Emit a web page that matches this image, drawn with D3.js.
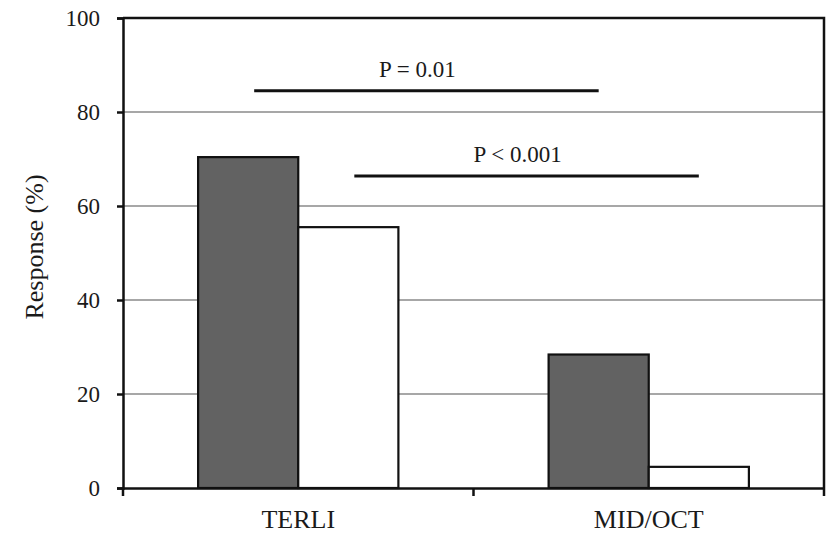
<!DOCTYPE html>
<html>
<head>
<meta charset="utf-8">
<script src="https://cdn.jsdelivr.net/npm/d3@7"></script>
<style>
  html, body { margin: 0; padding: 0; background: #fff; }
  svg { display: block; }
  text { font-family: "Liberation Serif", "Times New Roman", serif; fill: #1a1a1a; }
</style>
</head>
<body>
<svg id="chart" width="829" height="534"></svg>
<script>
// ---- data ----
const categories = ["TERLI", "MID/OCT"];
const seriesNames = ["group A", "group B"];
const seriesA = [70.4, 28.4];   // dark bars
const seriesB = [55.5, 4.5];    // white bars
const yTicks = [0, 20, 40, 60, 80, 100];
const annotLabels = ["P = 0.01", "P < 0.001"];
const annotValues = [84.5, 66.4];
const annotSeries = [0, 1];

// ---- layout ----
const svg = d3.select("#chart");
const mLeft = 123, mRight = 824, mTop = 18, mBottom = 488;

const y = d3.scaleLinear().domain([0, 100]).range([mBottom, mTop]);
const x = d3.scaleBand().domain(categories).range([mLeft, mRight]).paddingInner(0).paddingOuter(0);
const xs = d3.scaleBand().domain(seriesNames).range([0, x.bandwidth()]).paddingInner(0).paddingOuter(0.75);

const colors = ["#626262", "#ffffff"];
const seriesVals = [seriesA, seriesB];

// gridlines
svg.append("g").selectAll("line")
  .data(yTicks.filter(d => d > 0 && d < 100))
  .join("line")
  .attr("x1", mLeft).attr("x2", mRight)
  .attr("y1", d => y(d)).attr("y2", d => y(d))
  .attr("stroke", "#8a8a8a").attr("stroke-width", 1.5);

// bars
const bars = [];
categories.forEach((c, ci) => {
  seriesNames.forEach((s, si) => {
    bars.push({ c, s, si, v: seriesVals[si][ci] });
  });
});
svg.append("g").selectAll("rect")
  .data(bars)
  .join("rect")
  .attr("x", d => x(d.c) + xs(d.s))
  .attr("y", d => y(d.v))
  .attr("width", xs.bandwidth())
  .attr("height", d => y(0) - y(d.v))
  .attr("fill", d => colors[d.si])
  .attr("stroke", "#111").attr("stroke-width", 2.2);

// plot border (top & right)
svg.append("path")
  .attr("d", `M${mLeft},${mTop}H${mRight}V${mBottom}`)
  .attr("fill", "none").attr("stroke", "#111").attr("stroke-width", 2.5);

// y axis
const yAxis = svg.append("g")
  .attr("transform", `translate(${mLeft},0)`)
  .call(d3.axisLeft(y).tickValues(yTicks).tickSize(6).tickPadding(17).tickFormat(d3.format("d")));
yAxis.select(".domain").attr("stroke", "#111").attr("stroke-width", 2.5);
yAxis.selectAll(".tick line").attr("stroke", "#111").attr("stroke-width", 2.5);
yAxis.selectAll(".tick text").style("font-size", "23px").attr("fill", "#1a1a1a")
  .style("font-family", "'Liberation Serif', serif").attr("dy", "0.34em");

// x axis (labels)
const xAxis = svg.append("g")
  .attr("transform", `translate(0,${mBottom})`)
  .call(d3.axisBottom(x).tickSize(0).tickPadding(22));
xAxis.select(".domain").attr("stroke", "#111").attr("stroke-width", 2.5);
xAxis.selectAll(".tick text").style("font-size", "26px").attr("fill", "#1a1a1a")
  .style("font-family", "'Liberation Serif', serif");

// x boundary ticks
const bounds = categories.map(c => x(c)).concat([x(categories[categories.length - 1]) + x.bandwidth()]);
svg.append("g").selectAll("line")
  .data(bounds)
  .join("line")
  .attr("x1", d => d).attr("x2", d => d)
  .attr("y1", mBottom).attr("y2", mBottom + 8)
  .attr("stroke", "#111").attr("stroke-width", 2.5);

// y title
svg.append("text")
  .attr("transform", `translate(43,247) rotate(-90)`)
  .attr("text-anchor", "middle")
  .style("font-size", "26px")
  .text("Response (%)");

// significance annotations
annotLabels.forEach((lab, i) => {
  const s = seriesNames[annotSeries[i]];
  const x1 = x(categories[0]) + xs(s) + xs.bandwidth() / 2 + 6;
  const x2 = x(categories[1]) + xs(s) + xs.bandwidth() / 2;
  const yy = y(annotValues[i]);
  svg.append("line")
    .attr("x1", x1).attr("x2", x2).attr("y1", yy).attr("y2", yy)
    .attr("stroke", "#111").attr("stroke-width", 3);
  svg.append("text")
    .attr("x", (x1 + x2) / 2 - 9)
    .attr("y", yy - 14)
    .attr("text-anchor", "middle")
    .style("font-size", "23px")
    .text(lab);
});
</script>
</body>
</html>
